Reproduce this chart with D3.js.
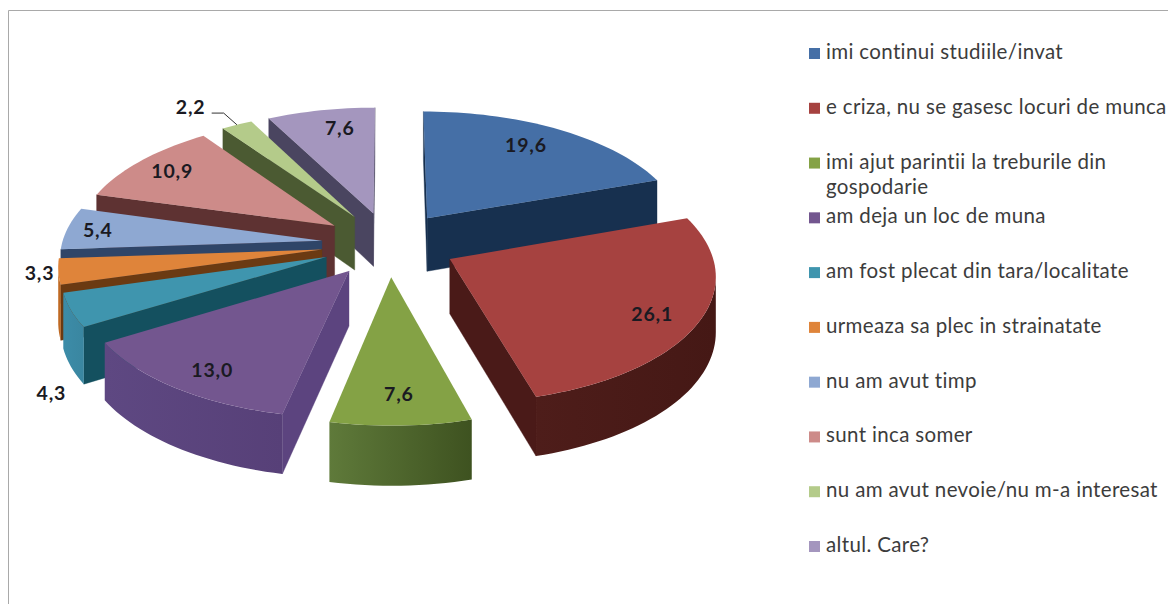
<!DOCTYPE html>
<html><head><meta charset="utf-8">
<script src="https://cdn.jsdelivr.net/npm/d3@7"></script>
<style>html,body{margin:0;padding:0;background:#fff;overflow:hidden}svg{display:block}</style>
</head><body><svg id="c" width="1168" height="604"></svg>
<script>
const categories = ["imi continui studiile/invat","e criza, nu se gasesc locuri de munca","imi ajut parintii la treburile din\ngospodarie","am deja un loc de muna","am fost plecat din tara/localitate","urmeaza sa plec in strainatate","nu am avut timp","sunt inca somer","nu am avut nevoie/nu m-a interesat","altul. Care?"];
const values = [19.6,26.1,7.6,13.0,4.3,3.3,5.4,10.9,2.2,7.6];
const labels = ["19,6","26,1","7,6","13,0","4,3","3,3","5,4","10,9","2,2","7,6"];
const topColors = ["#456fa6","#a64240","#84a245","#73568f","#3f95ae","#df843a","#8ea8d2","#cd8b89","#b4cb8a","#a496be"];
const radialColors = ["#17304f","#4a1a18","#4a5c26","#5c447f","#14505f","#6b3a12","#2f4568","#5e3232","#4b5a32","#4a4560"];
const arcFrom = ["#17304f","#4e1d1a","#5f7a3a","#5e4882","#3c8ca8","#c46e28","#2f4568","#5e3232","#4b5a32","#4a4560"];
const arcTo = ["#17304f","#451815","#3e5220","#574078","#3a86a0","#b8641f","#2f4568","#5e3232","#4b5a32","#4a4560"];
const labelRadius = [0.79,0.83,0.81,0.84,1.32,1.07,0.88,0.83,1.27,0.81];
const labelTurn = [-2.5,2,0,-2,-23,0,0,0,-4,3];

const W=1168,H=604, cx=389, cy=244, rx=260, ry=124, k=0.111, explode=0.26, depth=54;
const svg=d3.select("#c");
svg.append("rect").attr("width",W).attr("height",H).attr("fill","#fff");
svg.append("path").attr("d",`M8.5,${H}V10.5H${W}`).attr("fill","none").attr("stroke","#a9a9a9").attr("stroke-width",1);

const proj=(X,Y,low)=>{const s=1/(1-k*Y);return [cx+X*rx*s, cy+Y*ry*s+(low?depth*(1+0.09*Y):0)];};
const dir=a=>[Math.sin(a),-Math.cos(a)];
const slices=d3.pie().sort(null).value(d=>d)(values).map((d,i)=>{
  const mid=(d.startAngle+d.endAngle)/2,m=dir(mid);
  const ax=m[0]*explode, ay=m[1]*explode;
  const n=Math.max(4,Math.ceil((d.endAngle-d.startAngle)/0.03));
  const rim=d3.range(n+1).map(j=>{const a=d.startAngle+(d.endAngle-d.startAngle)*j/n,v=dir(a);return [ax+v[0],ay+v[1]];});
  return {i,mid,ax,ay,rim};
});
const line=d3.line();
const gap=svg.append("defs");
slices.forEach(s=>{
  const g=gap.append("linearGradient").attr("id","arc"+s.i);
  g.append("stop").attr("offset","0").attr("stop-color",arcFrom[s.i]);
  g.append("stop").attr("offset","1").attr("stop-color",arcTo[s.i]);
});
const pie=svg.append("g");
[...slices].sort((a,b)=>(-Math.cos(a.mid))-(-Math.cos(b.mid))).forEach(s=>{
  const g=pie.append("g"), c=radialColors[s.i];
  const apex=[s.ax,s.ay], first=s.rim[0], last=s.rim[s.rim.length-1];
  const quad=(p,q)=>[proj(p[0],p[1]),proj(q[0],q[1]),proj(q[0],q[1],true),proj(p[0],p[1],true)];
  const wall=(p,q)=>{ if(proj(q[0],q[1])[0]<proj(p[0],p[1])[0])
    g.append("path").attr("d",line(quad(p,q))+"Z").attr("fill",c).attr("stroke",c).attr("stroke-width",.4); };
  wall(apex,first); wall(last,apex);
  // outer wall: keep only the stretch whose x runs right to left
  const vis=[]; for(let j=0;j<s.rim.length-1;j++){ if(proj(...s.rim[j+1])[0]<proj(...s.rim[j])[0]){ if(!vis.length) vis.push(s.rim[j]); vis.push(s.rim[j+1]); } }
  if(vis.length>1){
    const up=vis.map(p=>proj(p[0],p[1])), dn=vis.map(p=>proj(p[0],p[1],true)).reverse();
    g.append("path").attr("d",line(up.concat(dn))+"Z").attr("fill",`url(#arc${s.i})`);
  }
  g.append("path").attr("d",line([apex,...s.rim].map(p=>proj(p[0],p[1])))+"Z").attr("fill",topColors[s.i]);
});

const font="Lato, 'Open Sans', sans-serif";
slices.forEach(s=>{
  const a=s.mid+labelTurn[s.i]*Math.PI/180,v=dir(a),r=labelRadius[s.i];
  const p=proj(s.ax+v[0]*r,s.ay+v[1]*r);
  svg.append("text").attr("x",p[0]).attr("y",p[1]+7).attr("text-anchor","middle")
    .attr("font-family",font).attr("font-weight",700).attr("font-size",19.5).attr("letter-spacing",0.8).attr("fill","#1a1a22").text(labels[s.i]);
  if(values[s.i]===d3.min(values)){
    const v2=dir(s.mid), e=proj(s.ax+v2[0],s.ay+v2[1]);
    svg.append("path").attr("d",line([[p[0]+21,p[1]+6],[p[0]+33,p[1]+6],e])).attr("fill","none").attr("stroke","#333").attr("stroke-width",1);
  }
});

const leg=svg.append("g");
const rowY=d3.scaleLinear().domain([0,9]).range([53,546]);
categories.forEach((c,i)=>{
  const y=rowY(i);
  leg.append("rect").attr("x",809).attr("y",y-5).attr("width",11).attr("height",11).attr("fill",topColors[i]);
  c.split("\n").forEach((t,j)=>{
    leg.append("text").attr("x",826).attr("y",y+6+j*25).attr("font-family",font).attr("font-size",20.5).attr("letter-spacing",0.35).attr("fill","#3c3c3c").text(t);
  });
});
</script></body></html>
